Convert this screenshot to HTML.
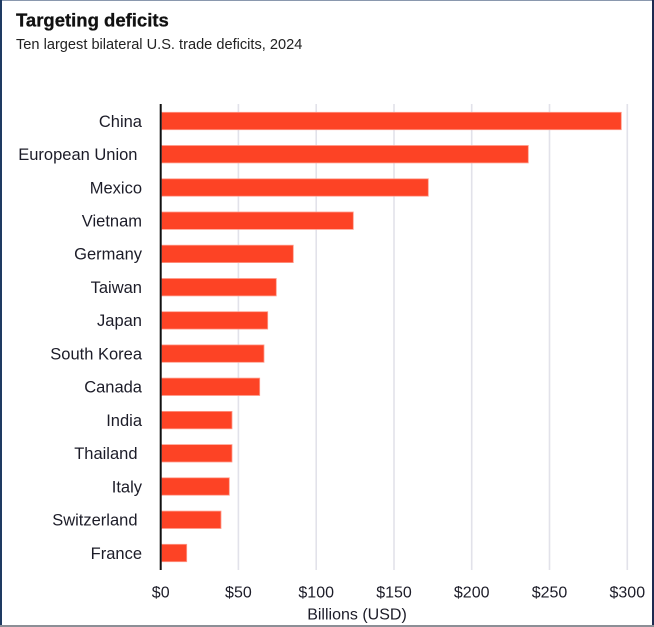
<!DOCTYPE html>
<html><head><meta charset="utf-8"><style>
html,body{margin:0;padding:0;background:#fff;}
svg{display:block;font-family:"Liberation Sans",Arial,sans-serif;}
</style></head><body>
<svg width="654" height="627" viewBox="0 0 654 627" xmlns="http://www.w3.org/2000/svg">
<rect x="0" y="0" width="654" height="627" fill="#fff"/>
<!-- border -->
<rect x="0" y="0" width="654" height="1" fill="#8a98ae"/>
<rect x="0" y="0" width="2" height="627" fill="#1e3a62"/>
<rect x="652" y="0" width="2" height="627" fill="#1e2a50"/>
<rect x="0" y="625" width="654" height="2" fill="#8c8f96"/>
<!-- titles -->
<text x="16" y="26.5" font-size="18.5" font-weight="bold" fill="#111" stroke="#111" stroke-width="0.3">Targeting deficits</text>
<text x="16" y="49" font-size="14.6" fill="#222">Ten largest bilateral U.S. trade deficits, 2024</text>
<!-- gridlines -->
<g fill="#e2e2ea">
<rect x="237.6" y="104" width="1.6" height="466"/>
<rect x="315.4" y="104" width="1.6" height="466"/>
<rect x="393.2" y="104" width="1.6" height="466"/>
<rect x="470.9" y="104" width="1.6" height="466"/>
<rect x="548.7" y="104" width="1.6" height="466"/>
<rect x="626.5" y="104" width="1.6" height="466"/>
</g>
<!-- bars -->
<g fill="#fd4325" stroke="#ff9c8c" stroke-width="0.8">
<rect x="161.5" y="112.3" width="459.8" height="17.4"/>
<rect x="161.5" y="145.5" width="366.8" height="17.4"/>
<rect x="161.5" y="178.8" width="266.8" height="17.4"/>
<rect x="161.5" y="212.0" width="191.8" height="17.4"/>
<rect x="161.5" y="245.2" width="131.8" height="17.4"/>
<rect x="161.5" y="278.5" width="114.8" height="17.4"/>
<rect x="161.5" y="311.7" width="106.2" height="17.4"/>
<rect x="161.5" y="344.9" width="102.5" height="17.4"/>
<rect x="161.5" y="378.1" width="98.2" height="17.4"/>
<rect x="161.5" y="411.4" width="70.5" height="17.4"/>
<rect x="161.5" y="444.6" width="70.5" height="17.4"/>
<rect x="161.5" y="477.8" width="67.8" height="17.4"/>
<rect x="161.5" y="511.1" width="59.5" height="17.4"/>
<rect x="161.5" y="544.3" width="25.2" height="17.4"/>
</g>
<!-- axis line -->
<rect x="159.7" y="104" width="2" height="466" fill="#111"/>
<!-- category labels -->
<g font-size="16.5" fill="#1c1c28" text-anchor="end">
<text x="142" y="126.8">China</text>
<text x="137.5" y="160">European Union</text>
<text x="142" y="193.3">Mexico</text>
<text x="142" y="226.5">Vietnam</text>
<text x="142" y="259.7">Germany</text>
<text x="142" y="293">Taiwan</text>
<text x="142" y="326.2">Japan</text>
<text x="142" y="359.4">South Korea</text>
<text x="142" y="392.6">Canada</text>
<text x="142" y="425.9">India</text>
<text x="137.5" y="459.1">Thailand</text>
<text x="142" y="492.3">Italy</text>
<text x="137.5" y="525.6">Switzerland</text>
<text x="142" y="558.8">France</text>
</g>
<!-- tick labels -->
<g font-size="16" fill="#1c1c28" text-anchor="middle">
<text x="160.7" y="597.3">$0</text>
<text x="238.4" y="597.3">$50</text>
<text x="316.2" y="597.3">$100</text>
<text x="394" y="597.3">$150</text>
<text x="471.7" y="597.3">$200</text>
<text x="549.5" y="597.3">$250</text>
<text x="627.3" y="597.3">$300</text>
<text x="357" y="619.5">Billions (USD)</text>
</g>
</svg>
</body></html>
